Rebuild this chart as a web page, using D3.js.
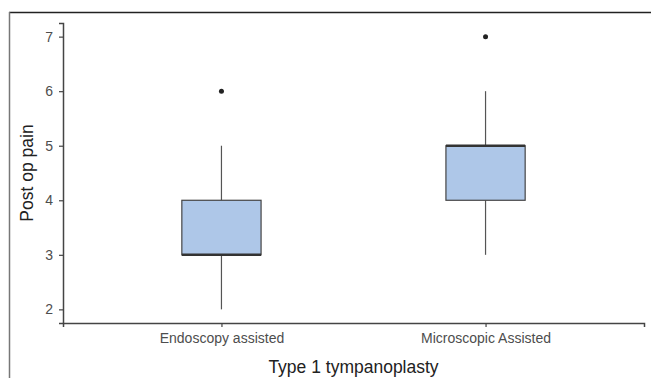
<!DOCTYPE html>
<html>
<head>
<meta charset="utf-8">
<script src="https://cdn.jsdelivr.net/npm/d3@7"></script>
<style>
  body { margin: 0; background: #fff; }
  svg { display: block; font-family: "Liberation Sans", Arial, sans-serif; }
</style>
</head>
<body>
<svg width="651" height="378"></svg>
<script>
const groups = ["Endoscopy assisted", "Microscopic Assisted"];
const whiskerLow = [2, 3];
const q1 = [3, 4];
const medians = [3, 5];
const q3 = [4, 5];
const whiskerHigh = [5, 6];
const outliers = [[6], [7]];
const yTicks = [2, 3, 4, 5, 6, 7];

const svg = d3.select("svg"),
      margin = { top: 23, right: 7, bottom: 55, left: 63 },
      width = +svg.attr("width") - margin.left - margin.right,
      height = +svg.attr("height") - margin.top - margin.bottom;

// outer frame of the figure (top and left edges visible)
svg.append("line").attr("x1", 9).attr("x2", 651).attr("y1", 12.5).attr("y2", 12.5)
    .attr("stroke", "#222").attr("stroke-width", 1.5);
svg.append("line").attr("x1", 9.5).attr("x2", 9.5).attr("y1", 12).attr("y2", 378)
    .attr("stroke", "#777").attr("stroke-width", 1.5);

const chart = svg.append("g")
    .attr("transform", `translate(${margin.left},${margin.top})`);

const x = d3.scalePoint()
    .domain(groups)
    .range([0, width])
    .padding(0.6);

const y = d3.scaleLinear()
    .domain([1.75, 7.25])
    .range([height, 0]);

const boxW = x.step() * 0.3;

const data = groups.map((g, i) => ({
    group: g, lo: whiskerLow[i], q1: q1[i], med: medians[i], q3: q3[i], hi: whiskerHigh[i], out: outliers[i]
}));

const box = chart.selectAll(".box")
    .data(data)
    .enter()
    .append("g")
    .attr("class", "box");

box.append("line")
    .attr("x1", d => x(d.group)).attr("x2", d => x(d.group))
    .attr("y1", d => y(d.q3)).attr("y2", d => y(d.hi))
    .attr("stroke", "#555").attr("stroke-width", 1.2);

box.append("line")
    .attr("x1", d => x(d.group)).attr("x2", d => x(d.group))
    .attr("y1", d => y(d.lo)).attr("y2", d => y(d.q1))
    .attr("stroke", "#555").attr("stroke-width", 1.2);

box.append("rect")
    .attr("x", d => x(d.group) - boxW / 2)
    .attr("y", d => y(d.q3))
    .attr("width", boxW)
    .attr("height", d => y(d.q1) - y(d.q3))
    .attr("fill", "#aec7e8")
    .attr("stroke", "#444")
    .attr("stroke-width", 1.2);

box.append("line")
    .attr("x1", d => x(d.group) - boxW / 2).attr("x2", d => x(d.group) + boxW / 2)
    .attr("y1", d => y(d.med)).attr("y2", d => y(d.med))
    .attr("stroke", "#333").attr("stroke-width", 2.5);

box.selectAll("circle")
    .data(d => d.out.map(v => ({ group: d.group, v })))
    .enter()
    .append("circle")
    .attr("cx", d => x(d.group))
    .attr("cy", d => y(d.v))
    .attr("r", 2.5)
    .attr("fill", "#222");

// axes
const yAxis = chart.append("g")
    .call(d3.axisLeft(y).tickValues(yTicks).tickFormat(d3.format("d")).tickSize(4).tickPadding(6));
const xAxis = chart.append("g")
    .attr("transform", `translate(0,${height})`)
    .call(d3.axisBottom(x).tickSize(4).tickPadding(6));

[yAxis, xAxis].forEach(a => {
    a.select(".domain").attr("stroke", "#444").attr("stroke-width", 1.5);
    a.selectAll(".tick line").attr("stroke", "#444").attr("stroke-width", 1.2);
    a.selectAll("text").attr("fill", "#4d4d4d").style("font-size", "14px")
        .style("font-family", "Liberation Sans, Arial, sans-serif");
});

svg.append("text")
    .attr("x", margin.left + width / 2)
    .attr("y", 373)
    .attr("text-anchor", "middle")
    .attr("fill", "#222")
    .style("font-size", "17.5px")
    .text("Type 1 tympanoplasty");

svg.append("text")
    .attr("transform", `translate(33,${margin.top + y(4.5)}) rotate(-90)`)
    .attr("text-anchor", "middle")
    .attr("fill", "#222")
    .style("font-size", "17.5px")
    .text("Post op pain");
</script>
</body>
</html>
